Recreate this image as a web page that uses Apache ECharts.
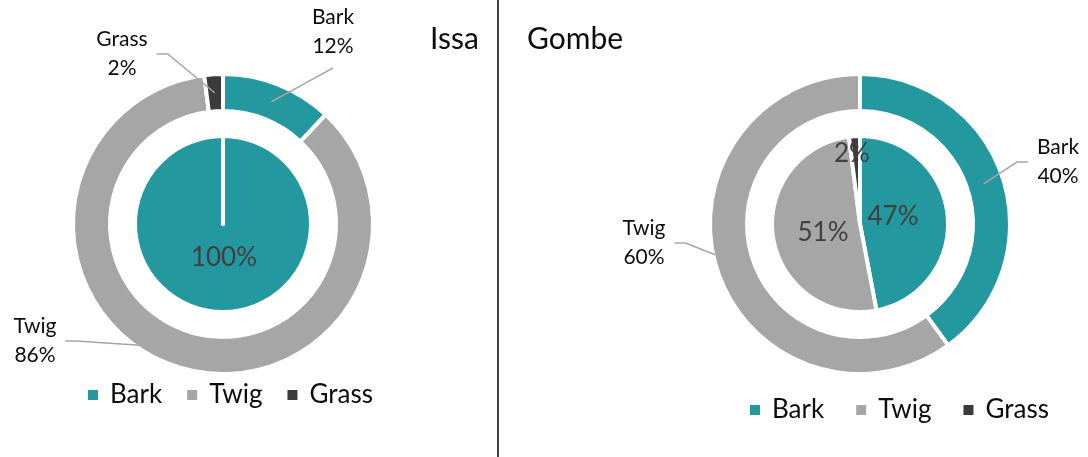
<!DOCTYPE html>
<html>
<head>
<meta charset="utf-8">
<script src="https://cdn.jsdelivr.net/npm/echarts@6/dist/echarts.min.js"></script>
<style>html,body{margin:0;padding:0;background:#fff;}#chart{width:1088px;height:457px;}</style>
</head>
<body>
<div id="chart"></div>
<script>
const categories = ['Bark', 'Twig', 'Grass'];
const issaOuter = [12, 86, 2];
const issaInner = [100, 0, 0];
const gombeOuter = [40, 60, 0];
const gombeInner = [47, 51, 2];
const panelTitles = ['Issa', 'Gombe'];

const colors = ['#23989F', '#A6A6A6', '#3B3B3B'];
const FONT = 'Lato, "Open Sans", sans-serif';
const ISSA_CENTER = [223, 224];
const GOMBE_CENTER = [860, 224];
const R_IN = 115, R_OUT = 148, R_PIE = 86, BW = 4;

// label placements relative to pie centre, and leader-line anchors [angle deg, radius] (layout only)
const issaOuterLbl = [[110, -192], [-188, 117], [-101, -170]];
const issaOuterAnchor = [[21.6, 131.5], [214.5, 147], [356.4, 131.5]];
const gombeOuterLbl = [[198, -62], [-216, 19], null];
const gombeOuterAnchor = [[72, 130], [258, 148], null];
const issaInnerLbl = [[1, 34], null, null];
const gombeInnerLbl = [[33, -7], [-37, 9], [-8, -70]];

function buildData(values, isOuter, showLabels) {
  return categories.map((c, i) => ({
    name: c,
    value: values[i],
    itemStyle: showLabels ? { color: 'rgba(0,0,0,0)', borderWidth: 0 } : { color: colors[i] },
    label: { show: showLabels && values[i] > 0 },
    labelLine: { show: showLabels && isOuter && values[i] > 0 }
  }));
}

function makeSeries(values, center, isOuter, lbl, anchors, overlay) {
  return {
    type: 'pie',
    z: overlay ? 6 : 2,
    center: center,
    radius: isOuter ? [R_IN - BW / 2, R_OUT + BW / 2] : [0, R_PIE + BW / 2],
    startAngle: 90,
    clockwise: true,
    avoidLabelOverlap: false,
    silent: true,
    animation: false,
    itemStyle: overlay ? { borderWidth: 0 } : { borderColor: '#ffffff', borderWidth: BW },
    label: isOuter
      ? { show: overlay, position: 'outside', formatter: '{b}\n{d}%', fontSize: 21, lineHeight: 29, color: '#0d0d0d', fontFamily: FONT }
      : { show: overlay, position: 'inside', formatter: '{d}%', fontSize: 26, color: '#404040', fontFamily: FONT },
    labelLine: { show: overlay && isOuter, lineStyle: { color: '#A6A6A6', width: 1.5 } },
    labelLayout: overlay ? function (p) {
      const off = lbl[p.dataIndex];
      if (!off) return {};
      const lx = center[0] + off[0], ly = center[1] + off[1];
      if (!isOuter) return { x: lx, y: ly, align: 'center', verticalAlign: 'middle' };
      const an = anchors[p.dataIndex];
      const a = an[0] * Math.PI / 180;
      const ring = [center[0] + an[1] * Math.sin(a), center[1] - an[1] * Math.cos(a)];
      const w = p.labelRect.width, h = p.labelRect.height;
      const dx = ring[0] - lx, dy = ring[1] - ly;
      let pts;
      if (Math.abs(dy) > Math.abs(dx)) {
        const end = [lx, ly + Math.sign(dy) * (h / 2 + 7)];
        pts = [ring, [(ring[0] + end[0]) / 2, (ring[1] + end[1]) / 2], end];
      } else {
        const end = [lx + Math.sign(dx) * (w / 2 + 9), ly];
        pts = [ring, [end[0] + Math.sign(dx) * 11, ly], end];
      }
      return { x: lx, y: ly, align: 'center', verticalAlign: 'middle', labelLinePoints: pts };
    } : null,
    emphasis: { disabled: true },
    data: buildData(values, isOuter, overlay)
  };
}

const chart = echarts.init(document.getElementById('chart'), null, { renderer: 'canvas' });
const legendBase = {
  data: categories,
  orient: 'horizontal',
  icon: 'rect',
  itemWidth: 12,
  itemHeight: 12,
  selectedMode: false,
  textStyle: { fontSize: 26, color: '#0d0d0d', fontFamily: FONT, padding: [0, 0, 0, 6] }
};
const titleStyle = { fontSize: 30, fontWeight: 'normal', color: '#0d0d0d', fontFamily: FONT };
chart.setOption({
  backgroundColor: '#ffffff',
  animation: false,
  title: [
    { text: panelTitles[0], left: 425, top: 19, textStyle: titleStyle },
    { text: panelTitles[1], left: 522, top: 19, textStyle: titleStyle }
  ],
  legend: [
    Object.assign({}, legendBase, { left: 81, top: 377, itemGap: 23 }),
    Object.assign({}, legendBase, { left: 743, top: 392, itemGap: 30 })
  ],
  graphic: [{
    type: 'line',
    shape: { x1: 498, y1: 0, x2: 498, y2: 457 },
    style: { stroke: '#404040', lineWidth: 2 },
    silent: true
  }],
  series: [
    makeSeries(issaOuter, ISSA_CENTER, true, issaOuterLbl, issaOuterAnchor, false),
    makeSeries(issaInner, ISSA_CENTER, false, issaInnerLbl, null, false),
    makeSeries(gombeOuter, GOMBE_CENTER, true, gombeOuterLbl, gombeOuterAnchor, false),
    makeSeries(gombeInner, GOMBE_CENTER, false, gombeInnerLbl, null, false),
    makeSeries(issaOuter, ISSA_CENTER, true, issaOuterLbl, issaOuterAnchor, true),
    makeSeries(issaInner, ISSA_CENTER, false, issaInnerLbl, null, true),
    makeSeries(gombeOuter, GOMBE_CENTER, true, gombeOuterLbl, gombeOuterAnchor, true),
    makeSeries(gombeInner, GOMBE_CENTER, false, gombeInnerLbl, null, true)
  ]
});
</script>
</body>
</html>
